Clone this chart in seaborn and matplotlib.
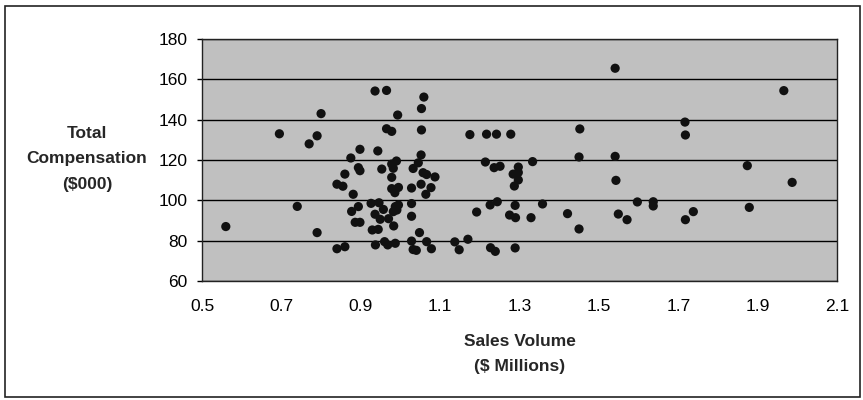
import matplotlib
matplotlib.use("Agg")
import matplotlib.pyplot as plt
import seaborn as sns
import pandas as pd
from matplotlib.patches import Rectangle

sales = [
    0.56, 0.695, 0.74, 0.77, 0.79, 0.80, 0.79, 0.84, 0.86, 0.84, 0.855, 0.86,
    0.875, 0.898, 0.894, 0.898, 0.881, 0.894, 0.877, 0.886, 0.898,
    0.936, 0.965, 0.993, 0.965, 0.978, 0.943, 0.953, 0.978, 0.990, 0.982, 0.978,
    0.978, 0.995, 0.986, 0.926, 0.946, 0.957, 0.936, 0.949, 0.970, 0.983, 0.929,
    0.944, 0.987, 0.995, 0.991, 0.982, 0.937, 0.960, 0.968, 0.987,
    1.059, 1.053, 1.053, 1.052, 1.045, 1.032, 1.057, 1.066, 1.087, 1.028, 1.052,
    1.077, 1.064, 1.028, 1.028, 1.048, 1.028, 1.066, 1.032, 1.040, 1.078,
    1.137, 1.148, 1.170, 1.192, 1.175, 1.217, 1.242, 1.278, 1.214, 1.236, 1.251,
    1.226, 1.244, 1.227, 1.239, 1.297, 1.297, 1.284, 1.297, 1.287, 1.333, 1.289,
    1.275, 1.290, 1.329, 1.289, 1.358, 1.421, 1.450, 1.452, 1.450,
    1.541, 1.541, 1.543, 1.549, 1.571, 1.597, 1.637, 1.637, 1.717, 1.718, 1.738,
    1.718, 1.874, 1.879, 1.966, 1.987,
]
compensation = [
    87, 133, 97, 128, 132, 143, 84, 76, 77, 108, 107, 113,
    121, 125.3, 116.2, 114.7, 103, 96.9, 94.5, 89.1, 89.1,
    154.2, 154.5, 142.3, 135.5, 134.2, 124.5, 115.5, 118, 119.5, 115.9, 111.4,
    105.8, 106.4, 103.8, 98.5, 98.8, 95.5, 93.1, 90.6, 90.9, 87.3, 85.3,
    85.6, 96.9, 97.7, 95.2, 94.4, 77.9, 79.5, 77.9, 78.7,
    151.2, 145.5, 134.9, 122.5, 118.6, 115.8, 113.7, 112.8, 111.6, 106.1, 108,
    106.3, 103, 98.4, 92.1, 84, 79.8, 79.5, 75.6, 75.2, 76,
    79.4, 75.5, 80.7, 94.2, 132.6, 132.8, 132.8, 132.8, 119, 116.2, 116.9,
    97.7, 99.3, 76.5, 74.7, 116.5, 113.8, 113, 110.1, 107.1, 119.2, 97.5,
    92.7, 91.4, 91.4, 76.4, 98.2, 93.4, 85.8, 135.4, 121.5,
    165.5, 121.8, 109.9, 93.2, 90.4, 99.2, 99.3, 97.2, 138.8, 132.4, 94.4,
    90.4, 117.2, 96.5, 154.4, 108.9,
]
x_ticks = [0.5, 0.7, 0.9, 1.1, 1.3, 1.5, 1.7, 1.9, 2.1]
y_ticks = [60, 80, 100, 120, 140, 160, 180]
x_label = "Sales Volume\n($ Millions)"
y_label = "Total\nCompensation\n($000)"

sns.set_style("white")
plt.rcParams["font.family"] = ["Liberation Sans", "DejaVu Sans"]

W, H = 863, 400
fig = plt.figure(figsize=(W / 100, H / 100), dpi=100)
fig.patch.set_facecolor("white")

# outer frame
fig.add_artist(Rectangle((5 / W, 3 / H), (W - 8) / W, (H - 9) / H,
                         transform=fig.transFigure, fill=False,
                         edgecolor="#222222", linewidth=1.2))

L, R, T, B = 202, 837, 39, 281
ax = fig.add_axes([L / W, (H - B) / H, (R - L) / W, (B - T) / H])
ax.set_facecolor("#C0C0C0")

df = pd.DataFrame({"sales": sales, "comp": compensation})
sns.scatterplot(data=df, x="sales", y="comp", ax=ax, color="#111111",
                s=44, edgecolor="none", linewidth=0, zorder=3)

ax.set_xlim(0.5, 2.1)
ax.set_ylim(60, 180)
ax.set_xticks(x_ticks)
ax.set_xticklabels([f"{v:.1f}" for v in x_ticks])
ax.set_yticks(y_ticks)
ax.set_yticklabels([str(v) for v in y_ticks])
ax.grid(axis="y", color="black", linewidth=1.0, zorder=1)
ax.set_axisbelow(True)
for sp in ax.spines.values():
    sp.set_color("#222222")
    sp.set_linewidth(1.0)
    sp.set_visible(True)

ax.tick_params(axis="x", length=0, pad=13, labelsize=12.5, colors="black")
ax.tick_params(axis="y", length=3.5, width=1.0, pad=7, labelsize=12.5,
               colors="black", direction="out", left=True)
ax.set_xlabel("")
ax.set_ylabel("")

fig.text((L + R) / 2 / W, 1 - 354 / H, x_label, ha="center", va="center",
         fontsize=12.5, fontweight="bold", linespacing=1.75, multialignment="center")
fig.text(87 / W, 1 - 159 / H, y_label, ha="center", va="center",
         fontsize=12.5, fontweight="bold", linespacing=1.9, multialignment="center")

fig.savefig("out.png", dpi=100, facecolor="white")
